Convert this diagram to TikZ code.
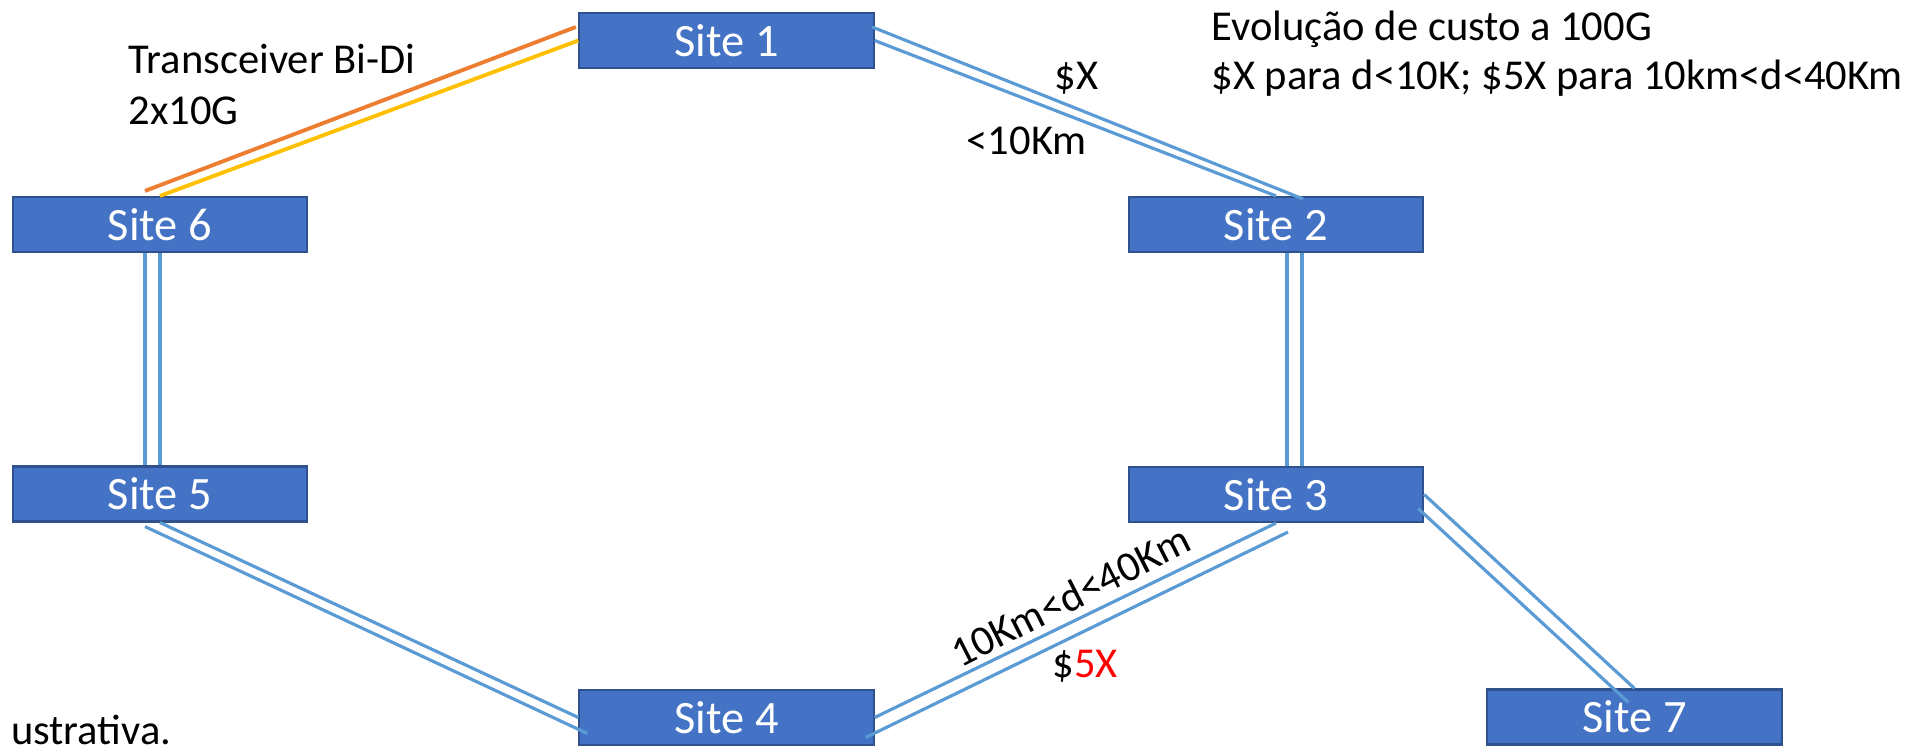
\documentclass[tikz,border=0pt]{standalone}
\usepackage{fontspec}
\setmainfont{Carlito}
\usetikzlibrary{calc}
\definecolor{boxfill}{HTML}{4472C4}
\definecolor{boxline}{HTML}{2F528F}
\definecolor{linkblue}{HTML}{5B9BD5}
\definecolor{bidiorange}{HTML}{ED7D31}
\definecolor{bidiyellow}{HTML}{FFC000}
\definecolor{costred}{HTML}{FF0000}
\begin{document}
\begin{tikzpicture}[x=0.01cm,y=-0.01cm,
  site/.style={draw=boxline, line width=0.6pt, fill=boxfill, minimum width=2.94cm,
    minimum height=0.55cm, inner sep=0pt, text=white,
    font=\fontsize{13.2pt}{15pt}\selectfont},
  link/.style={draw=linkblue, line width=0.9pt},
  bidi/.style={line width=1.1pt},
  lbl/.style={font=\fontsize{12.1pt}{14pt}\selectfont, inner sep=0pt, anchor=base west}]
\useasboundingbox (0,0) rectangle (1918,745);

% sites
\node[site] (s1) at (726.5,40.5) {Site 1};
\node[site] (s2) at (1276,224.5) {Site 2};
\node[site] (s3) at (1276,494.5) {Site 3};
\node[site] (s4) at (726.5,717.5) {Site 4};
\node[site] (s5) at (160,494) {Site 5};
\node[site] (s6) at (160,224.5) {Site 6};
\node[site] (s7) at (1634.5,717) {Site 7};

% offset end points
\coordinate (o6) at ($(s6.north)+(-15,-5)$);
\coordinate (o1) at ($(s1.west)+(-2.5,-13.5)$);
\coordinate (a1) at ($(s1.east)+(-2.5,-13.5)$);
\coordinate (a2) at ($(s2.north)+(27,3)$);
\coordinate (b6) at ($(s6.south)+(-15,0)$);
\coordinate (b5) at ($(s5.north)+(-15,0)$);
\coordinate (c2) at ($(s2.south)+(11,0)$);
\coordinate (c3) at ($(s3.north)+(11,0)$);
\coordinate (d2) at ($(s2.south)+(26,0)$);
\coordinate (d3) at ($(s3.north)+(26,0)$);
\coordinate (e5) at ($(s5.south)+(-15,4)$);
\coordinate (e4) at ($(s4.west)+(9,16)$);
\coordinate (f4) at ($(s4.east)+(-9,20)$);
\coordinate (f3) at ($(s3.south)+(12,9)$);
\coordinate (g3) at ($(s3.east)+(-6,14)$);
\coordinate (g7) at ($(s7.north)+(-6,14)$);

% Bi-Di link
\draw[bidi, bidiorange] (o6) -- (o1);
\draw[bidi, bidiyellow] (s6.north) -- (s1.west);

% fibre pairs
\draw[link] (a1) -- (a2);
\draw[link] (s1.east) -- (s2.north);
\draw[link] (b6) -- (b5);
\draw[link] (s6.south) -- (s5.north);
\draw[link] (c2) -- (c3);
\draw[link] (d2) -- (d3);
\draw[link] (s5.south) -- (s4.west);
\draw[link] (e5) -- (e4);
\draw[link] (s4.east) -- (s3.south);
\draw[link] (f4) -- (f3);
\draw[link] (s3.east) -- (s7.north);
\draw[link] (g3) -- (g7);

% labels
\node[lbl] (t1) at (128,73) {Transceiver Bi-Di};
\node[lbl] (t2) at (128,124) {2x10G};
\node[lbl] (t3) at (1211,40) {Evolução de custo a 100G};
\node[lbl] (t4) at (1211,89) {\$X para d<10K; \$5X para 10km<d<40Km};
\node[lbl] (t5) at (1054,89) {\$X};
\node[lbl] (t6) at (966,154) {<10Km};
\node[lbl, anchor=base, rotate=27] (t7) at (1077,609) {10Km<d<40Km};
\node[lbl] (t8) at (1052,677) {\$\textcolor{costred}{5X}};
\node[lbl, anchor=base east] (t9) at (172,744) {ustrativa.};
\end{tikzpicture}
\end{document}
